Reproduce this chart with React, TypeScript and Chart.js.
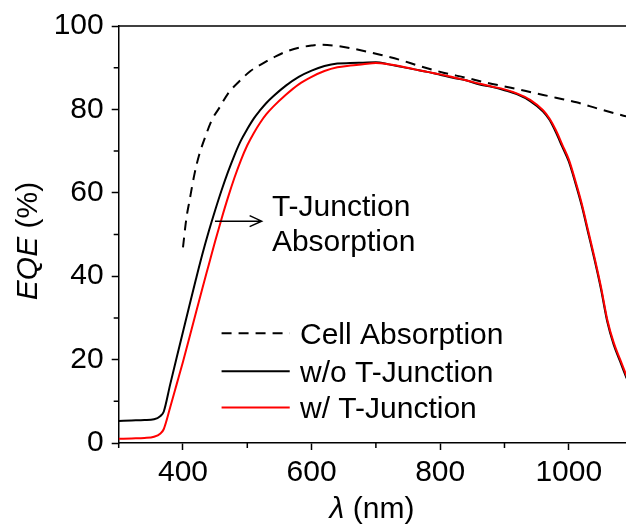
import React, { useEffect, useRef } from "react";
import { Chart, registerables } from "chart.js";

Chart.register(...registerables);

// ---- Data ----
const SOLID_WL = [300, 320, 340, 355, 365, 370, 380, 390, 400, 410, 420, 430, 440, 450, 460, 470, 480, 490, 500, 510, 520, 530, 540, 560, 580, 600, 620, 640, 660, 680, 700, 720, 740, 760, 780, 800, 820, 840, 860, 880, 900, 920, 940, 960, 970, 980, 990, 1000, 1010, 1020, 1030, 1040, 1050, 1060, 1070, 1080, 1090];
const WO_TJ = [5.3, 5.4, 5.5, 5.7, 6.5, 7.5, 14.0, 20.4, 26.7, 33.0, 39.2, 45.2, 50.7, 55.8, 60.6, 65.0, 69.0, 72.5, 75.3, 77.8, 79.8, 81.6, 83.1, 85.7, 87.8, 89.3, 90.4, 91.0, 91.1, 91.2, 91.3, 90.8, 90.2, 89.6, 89.0, 88.3, 87.6, 87.0, 86.0, 85.4, 84.6, 83.6, 82.0, 79.5, 77.5, 74.5, 71.0, 67.5, 62.5, 57.0, 50.5, 44.0, 37.0, 29.0, 23.5, 19.5, 15.5];
const W_TJ = [1.0, 1.1, 1.2, 1.5, 2.3, 3.3, 8.5, 14.0, 19.5, 25.3, 31.2, 37.0, 42.7, 48.4, 53.8, 58.9, 63.6, 67.8, 71.4, 74.3, 76.8, 78.9, 80.6, 83.5, 86.0, 87.8, 89.2, 90.1, 90.5, 90.8, 91.1, 90.8, 90.3, 89.6, 89.0, 88.4, 87.7, 87.0, 86.2, 85.5, 84.8, 83.8, 82.3, 79.8, 77.8, 75.0, 71.5, 68.0, 63.0, 57.5, 51.0, 44.5, 37.5, 29.5, 24.0, 20.0, 16.0];
const CELL_WL = [400, 405, 410, 418, 425, 436, 445, 457, 470, 488, 505, 525, 545, 561, 580, 600, 615, 640, 660, 685, 710, 737, 770, 805, 840, 872, 910, 945, 980, 1012, 1045, 1075, 1090];
const CELL_EQE = [46.9, 53.6, 58.0, 64.6, 69.0, 74.0, 77.5, 80.5, 83.8, 86.8, 89.2, 91.1, 92.8, 93.9, 94.8, 95.3, 95.5, 95.2, 94.7, 93.9, 93.0, 91.9, 90.3, 88.8, 87.6, 86.4, 85.2, 84.0, 82.8, 81.7, 80.2, 78.9, 78.3];

const X_TICKS = [400, 600, 800, 1000];
const X_MINOR = [300, 500, 700, 900];
const Y_TICKS = [0, 20, 40, 60, 80, 100];
const Y_MINOR = [10, 30, 50, 70, 90];

const LABELS = ["Cell Absorption", "w/o T-Junction", "w/ T-Junction"];
const NOTE_LINES = ["T-Junction", "Absorption"];

const FONT = "'Liberation Sans', Arial, Helvetica, sans-serif";
const FS = 30;

const overlay = {
  id: "overlay",
  afterDraw(chart: any) {
    const ctx = chart.ctx as CanvasRenderingContext2D;
    const { left, right, top, bottom } = chart.chartArea;
    const xs = chart.scales.x;
    const ys = chart.scales.y;
    const X = (v: number) => xs.getPixelForValue(v);
    const Y = (v: number) => ys.getPixelForValue(v);
    ctx.save();
    ctx.strokeStyle = "#000";
    ctx.fillStyle = "#000";
    ctx.lineWidth = 1.5;
    // top frame line
    ctx.beginPath();
    ctx.moveTo(left, top);
    ctx.lineTo(right, top);
    ctx.stroke();
    // minor ticks
    ctx.beginPath();
    X_MINOR.forEach((v) => {
      const px = X(v);
      ctx.moveTo(px, bottom);
      ctx.lineTo(px, bottom + 5);
    });
    Y_MINOR.forEach((v) => {
      const py = Y(v);
      ctx.moveTo(left - 5, py);
      ctx.lineTo(left, py);
    });
    ctx.stroke();

    const normal = `${FS}px ${FONT}`;
    const italic = `italic ${FS}px ${FONT}`;
    ctx.textBaseline = "alphabetic";
    ctx.textAlign = "left";

    // y axis title: "EQE (%)"
    ctx.save();
    ctx.translate(37, 241);
    ctx.rotate(-Math.PI / 2);
    ctx.font = italic;
    const w1 = ctx.measureText("EQE").width;
    ctx.font = normal;
    const w2 = ctx.measureText(" (%)").width;
    let sx = -(w1 + w2) / 2;
    ctx.font = italic;
    ctx.fillText("EQE", sx, 0);
    ctx.font = normal;
    ctx.fillText(" (%)", sx + w1, 0);
    ctx.restore();

    // x axis title: "λ (nm)"
    ctx.font = italic;
    const l1 = ctx.measureText("λ").width;
    ctx.font = normal;
    const l2 = ctx.measureText(" (nm)").width;
    sx = 372 - (l1 + l2) / 2;
    ctx.font = italic;
    ctx.fillText("λ", sx, 518);
    ctx.font = normal;
    ctx.fillText(" (nm)", sx + l1, 518);

    // annotation arrow + text
    ctx.lineWidth = 1.5;
    const ay = Y(53.2);
    const ax0 = X(449.7);
    const ax1 = X(522.3);
    ctx.beginPath();
    ctx.moveTo(ax0, ay);
    ctx.lineTo(ax1, ay);
    ctx.moveTo(ax1 - 12, ay - 5.5);
    ctx.lineTo(ax1, ay);
    ctx.lineTo(ax1 - 12, ay + 5.5);
    ctx.stroke();
    ctx.font = normal;
    ctx.fillText(NOTE_LINES[0], X(538.3), Y(54.4));
    ctx.fillText(NOTE_LINES[1], X(538.3), Y(46.1));

    // legend
    const rows = [
      { y: 26.3, color: "#000", dash: [10, 7] },
      { y: 17.2, color: "#000", dash: [] },
      { y: 8.5, color: "#ff0000", dash: [] },
    ];
    rows.forEach((r, i) => {
      const py = Y(r.y);
      ctx.strokeStyle = r.color;
      ctx.lineWidth = 2;
      ctx.setLineDash(r.dash);
      ctx.beginPath();
      ctx.moveTo(X(460), py);
      ctx.lineTo(X(566), py);
      ctx.stroke();
      ctx.setLineDash([]);
      ctx.fillStyle = "#000";
      ctx.font = normal;
      ctx.fillText(LABELS[i], X(582), py + 10.5);
    });
    ctx.restore();
  },
};

export default function App() {
  const ref = useRef<HTMLCanvasElement>(null);
  useEffect(() => {
    if (!ref.current) return;
    const tickFont = { family: FONT, size: FS };
    const chart = new Chart(ref.current, {
      type: "line",
      data: {
        datasets: [
          {
            label: LABELS[0],
            data: CELL_WL.map((x, i) => ({ x, y: CELL_EQE[i] })),
            borderColor: "#000",
            borderWidth: 2,
            borderDash: [10, 7],
            pointRadius: 0,
            cubicInterpolationMode: "monotone",
            fill: false,
            order: 2,
          },
          {
            label: LABELS[1],
            data: SOLID_WL.map((x, i) => ({ x, y: WO_TJ[i] })),
            borderColor: "#000",
            borderWidth: 2,
            pointRadius: 0,
            cubicInterpolationMode: "monotone",
            fill: false,
            order: 1,
          },
          {
            label: LABELS[2],
            data: SOLID_WL.map((x, i) => ({ x, y: W_TJ[i] })),
            borderColor: "#ff0000",
            borderWidth: 2,
            pointRadius: 0,
            cubicInterpolationMode: "monotone",
            fill: false,
            order: 0,
          },
        ],
      },
      options: {
        responsive: false,
        animation: false,
        events: [],
        layout: { padding: { top: 21, left: 0, right: 0, bottom: 0 } },
        plugins: { legend: { display: false }, tooltip: { enabled: false } },
        scales: {
          x: {
            type: "linear",
            min: 300,
            max: 1089,
            border: { display: true, color: "#000", width: 1.5 },
            grid: { display: true, drawOnChartArea: false, drawTicks: true, tickLength: 7, tickColor: "#000", tickWidth: 1.5 },
            ticks: { font: tickFont, color: "#000", padding: 5, autoSkip: false, maxRotation: 0, callback: (v: any) => String(v) },
            afterBuildTicks: (s: any) => {
              s.ticks = X_TICKS.map((v) => ({ value: v }));
            },
            afterFit: (s: any) => {
              s.height = 84;
            },
          },
          y: {
            type: "linear",
            min: 0,
            max: 100,
            border: { display: true, color: "#000", width: 1.5 },
            grid: { display: true, drawOnChartArea: false, drawTicks: true, tickLength: 7, tickColor: "#000", tickWidth: 1.5 },
            ticks: { font: tickFont, color: "#000", padding: 8, autoSkip: false, callback: (v: any) => String(v) },
            afterBuildTicks: (s: any) => {
              s.ticks = Y_TICKS.map((v) => ({ value: v }));
            },
            afterFit: (s: any) => {
              s.width = 118.7;
            },
          },
        },
      },
      plugins: [overlay],
    } as any);
    return () => chart.destroy();
  }, []);
  return (
    <div style={{ position: "fixed", left: 0, top: 0, width: 626, height: 527, background: "#fff" }}>
      <canvas ref={ref} width={626} height={527} style={{ display: "block" }} />
    </div>
  );
}
